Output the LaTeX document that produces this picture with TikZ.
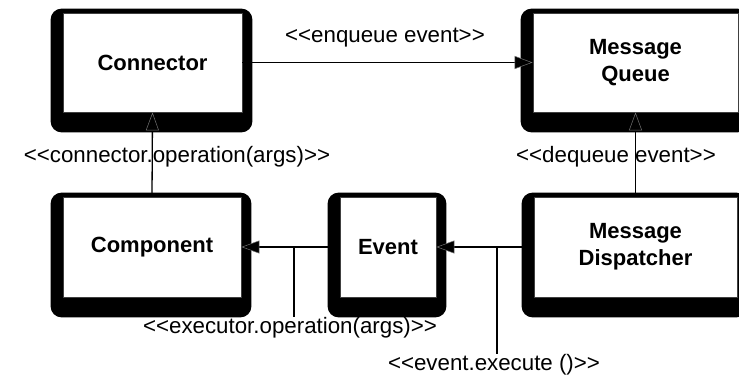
\documentclass[tikz,border=0pt]{standalone}
\usepackage{fontspec}
\setmainfont{Liberation Sans}[Ligatures=TeXOff]
\usetikzlibrary{arrows.meta,calc}
\pgfdeclarelayer{background}
\pgfsetlayers{background,main}

\tikzset{
  unit/.style={draw=black!75, line width=0.8pt, fill=white,
    font=\fontsize{22}{26.7}\selectfont\bfseries, align=center, inner sep=0pt},
  tag/.style={font=\fontsize{22.3}{26}\selectfont, inner sep=0pt},
  flow/.style={line width=1.3pt,
    -{Triangle[length=18pt,width=13pt,fill=black,color=black!55,line width=0.5pt]}},
  leader/.style={line width=1.1pt},
  shade/.style={fill=black, rounded corners=11pt},
}

\begin{document}
\begin{tikzpicture}[x=1pt,y=-1pt]
\useasboundingbox (0,0) rectangle (739,379);

% components
\node[unit, minimum width=179pt, minimum height=99pt]  (conn)  at (152.5,62.5) {Connector};
\node[unit, minimum width=205pt, minimum height=99pt]  (queue) at (635.5,62.5) {Message\\Queue};
\node[unit, minimum width=178pt, minimum height=100pt] (comp)  at (152,247)    {Component};
\node[unit, minimum width=96pt,  minimum height=100pt] (event) at (388,247)    {Event};
\node[unit, minimum width=203pt, minimum height=100pt] (disp)  at (635.5,247)  {Message\\Dispatcher};

% heavy frames behind each box
\begin{pgfonlayer}{background}
  \foreach \n in {conn,queue,comp,event,disp}
    \fill[shade] ($(\n.north west)+(-12,-4)$) rectangle ($(\n.south east)+(10,20)$);
\end{pgfonlayer}

% stereotype labels
\node[tag] (lblenq)  at (385,38)  {<<enqueue event>>};
\node[tag] (lblconn) at (177,157) {<<connector.operation(args)>>};
\node[tag] (lbldeq)  at (616,157) {<<dequeue event>>};
\node[tag] (lblexec) at (290,328) {<<executor.operation(args)>>};
\node[tag] (lblexe)  at (494,365) {<<event.execute ()>>};

% connectors
\draw[flow] (conn.east) -- (queue.west);
\draw[flow] (comp.north) -- (conn.south);
\draw[flow] (disp.north) -- (queue.south);
\draw[flow] (event.west) -- (comp.east);
\draw[flow] (disp.west) -- (event.east);

% leaders from the lower connectors to their labels
\coordinate (tapA) at (294,247);
\coordinate (tapB) at (497,247);
\draw[leader] (tapA) -- (tapA |- lblexec.north);
\draw[leader] (tapB) -- (tapB |- lblexe.north);
\end{tikzpicture}
\end{document}
